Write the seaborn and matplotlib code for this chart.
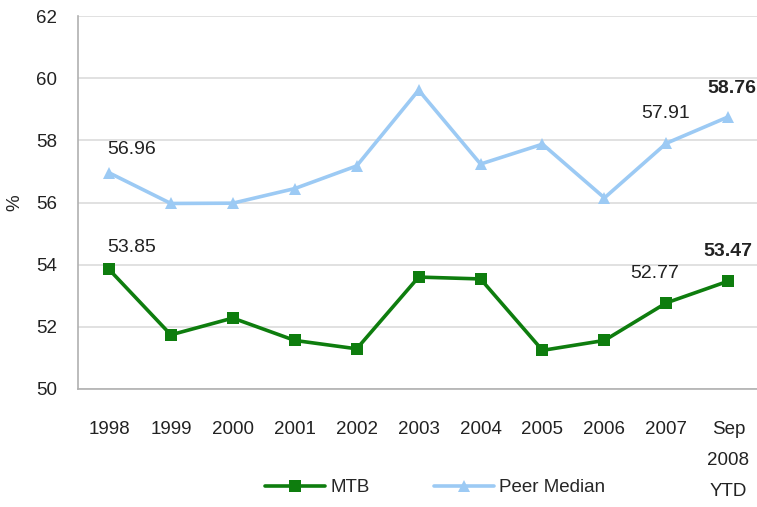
import matplotlib
matplotlib.use('Agg')
import matplotlib.pyplot as plt
import seaborn as sns
import pandas as pd

categories = ['1998', '1999', '2000', '2001', '2002', '2003', '2004', '2005', '2006', '2007', 'Sep\n2008\nYTD']
mtb = [53.85, 51.74, 52.28, 51.56, 51.29, 53.60, 53.54, 51.24, 51.56, 52.77, 53.47]
peer = [56.96, 55.97, 55.98, 56.45, 57.18, 59.62, 57.24, 57.88, 56.15, 57.91, 58.76]
series_names = ['MTB', 'Peer Median']

GREEN = '#0e7d0e'
BLUE = '#9ccaf4'
FS = 13.5

sns.set_style('white')
plt.rcParams['font.family'] = ['Liberation Sans', 'DejaVu Sans']
plt.rcParams['font.size'] = FS

df = pd.DataFrame({
  'pos': list(range(len(categories))) * 2,
  'value': mtb + peer,
  'series': [series_names[0]] * len(mtb) + [series_names[1]] * len(peer),
})

px = 1/100
fig = plt.figure(figsize=(757*px, 507*px), dpi=100)
ax = fig.add_axes([0.103, 0.233, 0.900, 0.735])

sns.lineplot(data=df, x='pos', y='value', hue='series', style='series',
             markers={'MTB': 's', 'Peer Median': '^'}, dashes=False,
             palette={'MTB': GREEN, 'Peer Median': BLUE},
             linewidth=2.6, markersize=9, markeredgewidth=0, ax=ax, legend=False)

ax.set_xlim(-0.5, len(categories) - 0.5)
ax.set_ylim(50, 62)
ax.set_yticks(range(50, 63, 2))
ax.set_xticks(range(len(categories)))
ax.set_xticklabels(categories, linespacing=2.1, va='top')
ax.set_xticks([i - 0.5 for i in range(len(categories) + 1)], minor=True)
ax.tick_params(axis='x', which='major', length=0, pad=23, labelsize=FS, colors='#222222')
ax.tick_params(axis='x', which='minor', length=7, color='#b0b0b0', width=1.2, direction='out')
ax.tick_params(axis='y', length=6, color='#b0b0b0', width=1.2, pad=9, labelsize=FS, colors='#222222')
ax.set_xlabel('')
ax.set_ylabel('%', fontsize=FS, va='center')
ax.yaxis.set_label_coords(-0.092, 0.5)

ax.grid(axis='y', color='#dcdcdc', linewidth=1.2)
ax.set_axisbelow(True)
for s in ['top', 'right']:
  ax.spines[s].set_visible(False)
for s in ['left', 'bottom']:
  ax.spines[s].set_color('#b0b0b0')
  ax.spines[s].set_linewidth(1.2)

# data labels
def label(i, vals, dx, dy, bold=False):
  ax.annotate(f'{vals[i]:.2f}', (i, vals[i]), xytext=(dx, dy), textcoords='offset pixels',
              ha='center', va='center', fontsize=FS + 0.5, color='#222222',
              fontweight='bold' if bold else 'normal')

label(0, peer, 23, 23)
label(0, mtb, 23, 22)
label(9, peer, -1, 30)
label(9, mtb, -12, 29)
label(10, peer, 4, 28, bold=True)
label(10, mtb, 0, 30, bold=True)

handles = [
  plt.Line2D([], [], color=GREEN, marker='s', markersize=9, linewidth=2.6, markeredgewidth=0),
  plt.Line2D([], [], color=BLUE, marker='^', markersize=9, linewidth=2.6, markeredgewidth=0),
]
fig.legend(handles, series_names, loc='center', bbox_to_anchor=(0.575, 0.038), ncol=2,
           frameon=False, handlelength=3.2, handletextpad=0.3, columnspacing=3.4, fontsize=FS)

fig.savefig('out.png', dpi=100)
